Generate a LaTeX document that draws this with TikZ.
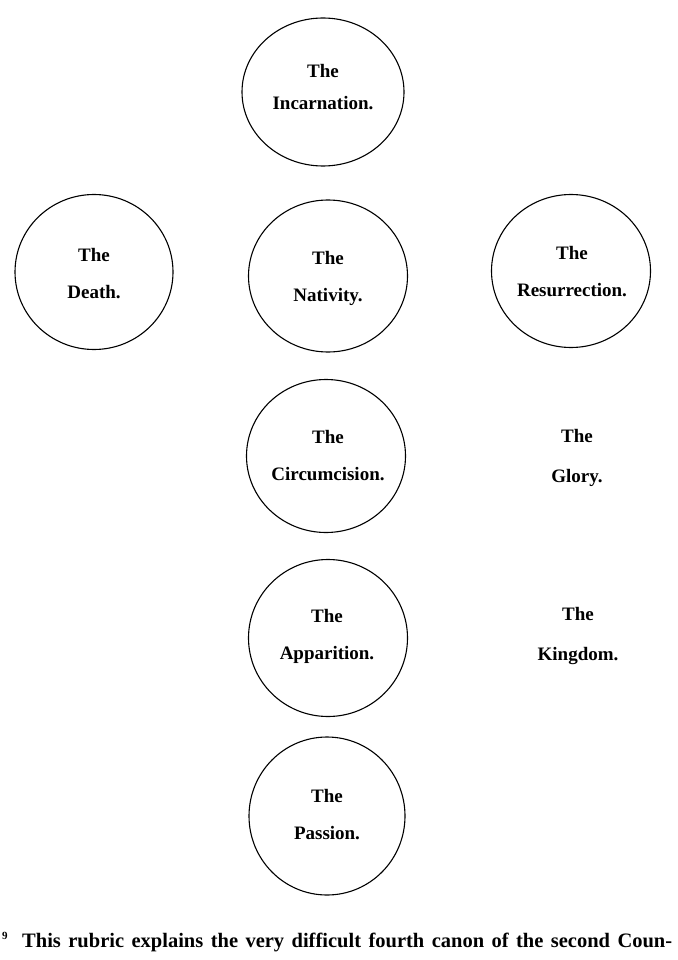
\documentclass[tikz,border=0pt]{standalone}
\usepackage{fontspec}
\setmainfont{Liberation Serif}
\usetikzlibrary{shapes.geometric}
\tikzset{
  disc/.style={draw=black, line width=1.1pt, ellipse, inner sep=0pt},
  lbl/.style={font=\fontsize{19}{37}\selectfont\bfseries, align=center, inner sep=0pt},
  plainlbl/.style={font=\fontsize{19}{40}\selectfont\bfseries, align=center, inner sep=0pt},
  foot/.style={font=\fontsize{20.5}{24}\selectfont\bfseries, anchor=base west, inner sep=0pt}
}
\begin{document}
\begin{tikzpicture}[x=1pt,y=-1pt]
\useasboundingbox[fill=white] (0,0) rectangle (677,960);
% circles
\node[disc, minimum width=162pt, minimum height=148pt] (inc) at (323,92) {};
\node[disc, minimum width=158pt, minimum height=155pt] (dea) at (94,272) {};
\node[disc, minimum width=159pt, minimum height=152pt] (nat) at (328,276) {};
\node[disc, minimum width=159pt, minimum height=153pt] (res) at (571,271) {};
\node[disc, minimum width=159pt, minimum height=153pt] (cir) at (326,456) {};
\node[disc, minimum width=159pt, minimum height=157pt] (app) at (328,638) {};
\node[disc, minimum width=156pt, minimum height=158pt] (pas) at (327,816) {};
% labels
\node[lbl, font=\fontsize{19}{32}\selectfont\bfseries] (incL) at (323,87) {The\\Incarnation.};
\node[lbl] (deaL) at (94,274) {The\\Death.};
\node[lbl] (natL) at (328,278) {The\\Nativity.};
\node[lbl] (resL) at (572,272) {The\\Resurrection.};
\node[lbl] (cirL) at (328,456) {The\\Circumcision.};
\node[plainlbl] (gloL) at (577,458) {The\\Glory.};
\node[lbl] (appL) at (327,636) {The\\Apparition.};
\node[plainlbl] (kinL) at (578,636) {The\\Kingdom.};
\node[lbl] (pasL) at (327,815) {The\\Passion.};
% footnote
\node[foot, font=\fontsize{11}{12}\selectfont\bfseries] (fnm) at (2,939) {9};
\node[foot] (foot) at (22,947) {\makebox[650pt][s]{This rubric explains the very difficult fourth canon of the second Coun-}};
\end{tikzpicture}
\end{document}
